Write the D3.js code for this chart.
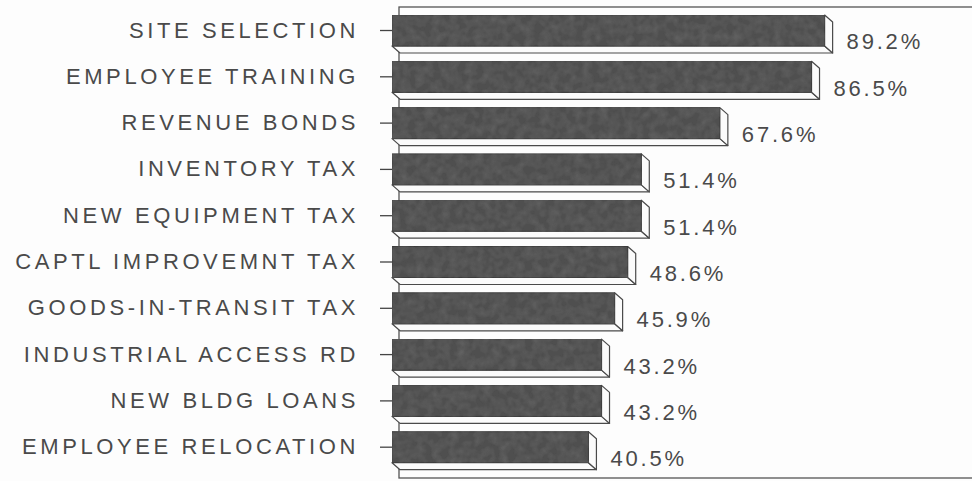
<!DOCTYPE html>
<html>
<head>
<meta charset="utf-8">
<script src="https://cdn.jsdelivr.net/npm/d3@7/dist/d3.min.js"></script>
<style>
  html, body { margin: 0; padding: 0; background: #fdfdfd; }
  svg { display: block; }
  text { font-family: "Liberation Sans", Arial, sans-serif; fill: #4a4a4a; }
</style>
</head>
<body>
<svg id="chart" width="972" height="481"></svg>
<script>
// Survey results: share of respondents citing each incentive
const categories = [
  "SITE SELECTION",
  "EMPLOYEE TRAINING",
  "REVENUE BONDS",
  "INVENTORY TAX",
  "NEW EQUIPMENT TAX",
  "CAPTL IMPROVEMNT TAX",
  "GOODS-IN-TRANSIT TAX",
  "INDUSTRIAL ACCESS RD",
  "NEW BLDG LOANS",
  "EMPLOYEE RELOCATION"
];
const values = [89.2, 86.5, 67.6, 51.4, 51.4, 48.6, 45.9, 43.2, 43.2, 40.5];
const valueLabels = ["89.2%", "86.5%", "67.6%", "51.4%", "51.4%", "48.6%", "45.9%", "43.2%", "43.2%", "40.5%"];

const svg = d3.select("#chart");
const W = 972, H = 481;

// 3D depth offset of each bar (right and down)
const DX = 8, DY = 7;

const x = d3.scaleLinear().domain([0, 100]).range([392, 877]);
const y = d3.scaleBand().domain(categories).range([15, 462.7]).paddingInner(0.33).paddingOuter(0);

// Faintly mottled fill for the bar fronts
const defs = svg.append("defs");
const filt = defs.append("filter").attr("id", "grain").attr("x", 0).attr("y", 0).attr("width", 1).attr("height", 1);
filt.append("feTurbulence").attr("type", "fractalNoise").attr("baseFrequency", 0.12).attr("numOctaves", 2).attr("seed", 4).attr("result", "n");
filt.append("feColorMatrix").attr("in", "n").attr("type", "matrix")
  .attr("values", "0 0 0 0 0.5  0 0 0 0 0.5  0 0 0 0 0.5  0 0 0 0.16 -0.05").attr("result", "g");
filt.append("feComposite").attr("in", "g").attr("in2", "SourceGraphic").attr("operator", "in").attr("result", "gi");
const m = filt.append("feMerge");
m.append("feMergeNode").attr("in", "SourceGraphic");
m.append("feMergeNode").attr("in", "gi");

// Back wall of the plot area
const x0 = x(0);
svg.append("rect")
  .attr("x", x0 + DX - 1).attr("y", 7)
  .attr("width", W + 10 - (x0 + DX)).attr("height", 471)
  .attr("fill", "none").attr("stroke", "#555").attr("stroke-width", 1.3);

const g = svg.append("g");

categories.forEach((c, i) => {
  const top = y(c), h = y.bandwidth(), xe = x(values[i]);
  const bar = g.append("g");
  // bottom face
  bar.append("polygon")
    .attr("points", [[x0, top + h], [xe, top + h], [xe + DX, top + h + DY], [x0 + DX, top + h + DY]].join(" "))
    .attr("fill", "#fbfbfb").attr("stroke", "#4a4a4a").attr("stroke-width", 1.2).attr("stroke-linejoin", "round");
  // right face
  bar.append("polygon")
    .attr("points", [[xe, top], [xe + DX, top + DY], [xe + DX, top + h + DY], [xe, top + h]].join(" "))
    .attr("fill", "#fbfbfb").attr("stroke", "#4a4a4a").attr("stroke-width", 1.2).attr("stroke-linejoin", "round");
  // front face
  bar.append("rect")
    .attr("x", x0).attr("y", top).attr("width", xe - x0).attr("height", h)
    .attr("fill", "#4f4f4f").attr("stroke", "#3e3e3e").attr("stroke-width", 1)
    .attr("filter", "url(#grain)");
  // value label
  g.append("text")
    .attr("x", xe + DX + 14).attr("y", top + h / 2 + 11)
    .attr("dy", "0.36em")
    .attr("font-size", 22).attr("letter-spacing", 2.8)
    .text(valueLabels[i]);
});

// Category axis with ticks
const axis = svg.append("g").attr("transform", `translate(${x0},0)`)
  .call(d3.axisLeft(y).tickSize(12).tickPadding(21));
axis.select(".domain").remove();
axis.selectAll(".tick line").attr("stroke", "#444").attr("stroke-width", 1.3);
axis.selectAll(".tick text")
  .attr("font-size", 22).attr("letter-spacing", 3.6)
  .attr("font-family", "Liberation Sans, Arial, sans-serif")
  .attr("fill", "#4a4a4a");
</script>
</body>
</html>
